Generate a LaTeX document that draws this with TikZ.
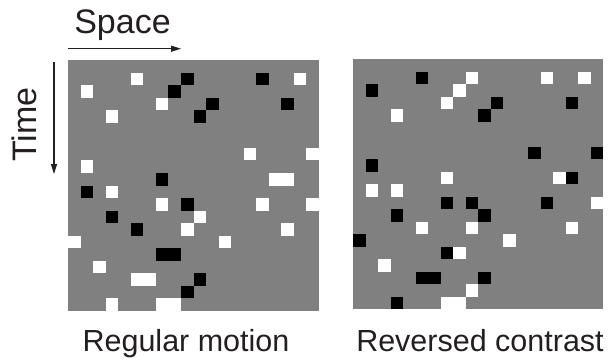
\documentclass[tikz,border=0pt]{standalone}
\usepackage{fontspec}
\setmainfont{Liberation Sans}
\usetikzlibrary{arrows.meta}
\definecolor{bg}{RGB}{128,128,128}
\definecolor{ink}{RGB}{35,31,32}
\begin{document}
\begin{tikzpicture}[x=1pt,y=-1pt,
  axisarrow/.style={draw=ink, line width=1.1pt, -{Triangle[length=10pt,width=6pt]}},
  bigtext/.style={text=ink, inner sep=0pt, anchor=base, font=\fontsize{34}{40}\selectfont},
  labeltext/.style={text=ink, inner sep=0pt, anchor=base, font=\fontsize{30.5}{36}\selectfont}]
\useasboundingbox (0,0) rectangle (613,360);

% left panel
\fill[bg] (68,60) rectangle (319,311);
\def\cl{12.55}
\foreach \c/\r in {5/1,1/2,7/3,3/4,18/1,14/7,19/7,1/8,16/9,17/9,3/10,7/11,15/11,19/11,10/12,9/13,17/13,0/14,12/14,2/16,5/17,6/17,3/19,7/19,8/19}
  \fill[white] ({68+\c*\cl},{60+\r*\cl}) rectangle ++(\cl,\cl);
\foreach \c/\r in {9/1,8/2,10/4,15/1,11/3,17/3,7/9,1/10,9/11,3/12,5/13,7/15,8/15,10/17,9/18}
  \fill[black] ({68+\c*\cl},{60+\r*\cl}) rectangle ++(\cl,\cl);

% right panel
\fill[bg] (353,59) rectangle (603,309);
\def\cr{12.5}
\foreach \c/\r in {9/1,15/1,18/1,8/2,7/3,3/4,7/9,16/9,1/10,3/10,19/11,5/13,9/13,17/13,12/14,8/15,2/16,9/18,7/19,8/19}
  \fill[white] ({353+\c*\cr},{59+\r*\cr}) rectangle ++(\cr,\cr);
\foreach \c/\r in {5/1,1/2,11/3,10/4,17/3,14/7,19/7,1/8,17/9,7/11,9/11,15/11,3/12,10/12,0/14,7/15,5/17,6/17,10/17,3/19}
  \fill[black] ({353+\c*\cr},{59+\r*\cr}) rectangle ++(\cr,\cr);

% axes
\coordinate (s0) at (68,48.7);
\coordinate (s1) at (181,48.7);
\coordinate (t0) at (54,62);
\coordinate (t1) at (54,174);
\draw[axisarrow] (s0) -- (s1);
\draw[axisarrow] (t0) -- (t1);

\node[bigtext] (space) at (122.5,33.3) {Space};
\node[bigtext, rotate=90] (time) at (36.7,124.5) {Time};

\node[labeltext] (reg) at (186,351.7) {Regular motion};
\node[labeltext] (rev) at (480,351.7) {Reversed contrast};
\end{tikzpicture}
\end{document}
